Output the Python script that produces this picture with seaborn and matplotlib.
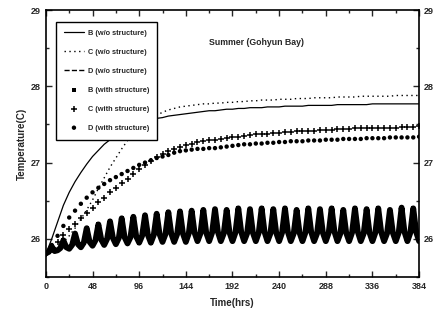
import numpy as np
import seaborn as sns
import matplotlib.pyplot as plt
from matplotlib.ticker import MultipleLocator

# tiempos de muestreo (horas)
hours_6 = np.arange(0, 385, 6)
hours_3 = np.arange(0, 385, 3)

# B (w/o structure) - linea continua
b_wo = [25.80, 26.00, 26.22, 26.44, 26.61, 26.75, 26.87, 26.98, 27.08, 27.16,
        27.24, 27.30, 27.36, 27.41, 27.45, 27.49, 27.52, 27.54, 27.56, 27.58,
        27.59, 27.61, 27.62, 27.63, 27.64, 27.65, 27.66, 27.67, 27.68, 27.68,
        27.69, 27.70, 27.70, 27.71, 27.71, 27.72, 27.72, 27.72, 27.73, 27.73,
        27.73, 27.74, 27.74, 27.74, 27.74, 27.75, 27.75, 27.75, 27.75, 27.75,
        27.76, 27.76, 27.76, 27.76, 27.76, 27.76, 27.77, 27.77, 27.77, 27.77,
        27.77, 27.77, 27.77, 27.77, 27.77]

# C (w/o structure) - punteada
c_wo = [25.80, 25.84, 25.89, 25.96, 26.04, 26.14, 26.26, 26.38, 26.51, 26.66,
        26.80, 26.94, 27.06, 27.18, 27.29, 27.38, 27.46, 27.52, 27.57, 27.62,
        27.66, 27.69, 27.71, 27.73, 27.74, 27.75, 27.76, 27.77, 27.77, 27.78,
        27.78, 27.79, 27.79, 27.80, 27.80, 27.81, 27.81, 27.82, 27.82, 27.82,
        27.83, 27.83, 27.83, 27.84, 27.84, 27.84, 27.85, 27.85, 27.85, 27.85,
        27.86, 27.86, 27.86, 27.86, 27.87, 27.87, 27.87, 27.87, 27.87, 27.87,
        27.88, 27.88, 27.88, 27.88, 27.88]

# C (with structure) - cruces
c_with = [25.80, 25.86, 25.96, 26.05, 26.13, 26.20, 26.27, 26.34, 26.41, 26.48,
          26.54, 26.61, 26.67, 26.73, 26.79, 26.85, 26.91, 26.97, 27.02, 27.07,
          27.11, 27.15, 27.18, 27.21, 27.23, 27.25, 27.27, 27.28, 27.29, 27.30,
          27.31, 27.32, 27.33, 27.34, 27.35, 27.36, 27.37, 27.38, 27.38, 27.39,
          27.39, 27.40, 27.40, 27.41, 27.41, 27.42, 27.42, 27.43, 27.43, 27.43,
          27.44, 27.44, 27.44, 27.45, 27.45, 27.45, 27.45, 27.46, 27.46, 27.46,
          27.46, 27.47, 27.47, 27.47, 27.48]

# D (with structure) - circulos
d_with = [25.80, 25.92, 26.04, 26.17, 26.28, 26.37, 26.46, 26.54, 26.61, 26.67,
          26.72, 26.77, 26.81, 26.85, 26.89, 26.93, 26.97, 27.00, 27.03, 27.06,
          27.08, 27.10, 27.13, 27.15, 27.16, 27.17, 27.18, 27.18, 27.19, 27.19,
          27.20, 27.21, 27.22, 27.23, 27.24, 27.24, 27.25, 27.25, 27.26, 27.26,
          27.27, 27.27, 27.28, 27.28, 27.28, 27.29, 27.29, 27.29, 27.30, 27.30,
          27.30, 27.31, 27.31, 27.31, 27.31, 27.32, 27.32, 27.32, 27.32, 27.33,
          27.33, 27.33, 27.33, 27.33, 27.34]

# oscilacion de marea (B with / D w/o), cada 3 h: valle, subida, pico, bajada
tide = [25.81, 25.83, 25.90, 25.84,
        25.85, 25.88, 25.98, 25.89,
        25.87, 25.92, 26.07, 25.93,
        25.89, 25.95, 26.14, 25.96,
        25.91, 25.98, 26.19, 25.99,
        25.92, 26.00, 26.23, 26.01,
        25.93, 26.01, 26.27, 26.02,
        25.94, 26.02, 26.29, 26.03,
        25.95, 26.04, 26.31, 26.05,
        25.95, 26.05, 26.33, 26.06,
        25.96, 26.06, 26.35, 26.07,
        25.96, 26.06, 26.36, 26.07,
        25.96, 26.07, 26.37, 26.08,
        25.97, 26.07, 26.38, 26.08,
        25.97, 26.08, 26.39, 26.09,
        25.97, 26.07, 26.38, 26.08,
        25.97, 26.08, 26.40, 26.09,
        25.97, 26.07, 26.39, 26.08,
        25.97, 26.08, 26.40, 26.09,
        25.97, 26.07, 26.39, 26.08,
        25.97, 26.08, 26.40, 26.09,
        25.97, 26.07, 26.38, 26.08,
        25.97, 26.08, 26.40, 26.09,
        25.97, 26.07, 26.39, 26.08,
        25.97, 26.08, 26.40, 26.09,
        25.97, 26.07, 26.38, 26.08,
        25.97, 26.08, 26.40, 26.09,
        25.97, 26.07, 26.39, 26.08,
        25.97, 26.08, 26.40, 26.09,
        25.97, 26.07, 26.38, 26.08,
        25.97, 26.08, 26.41, 26.09,
        25.97, 26.08, 26.40, 26.09,
        25.97]

sns.set_style("ticks")
plt.rcParams['font.family'] = ['Liberation Sans', 'DejaVu Sans']
plt.rcParams['font.weight'] = 'bold'

fig = plt.figure(figsize=(4.37, 3.24), dpi=100)
ax = fig.add_axes([0.105, 0.145, 0.854, 0.824])

# banda gruesa de la oscilacion
sns.lineplot(x=hours_3, y=tide, ax=ax, color='k', lw=4.2, label='_band',
             solid_joinstyle='round', solid_capstyle='round')
sns.lineplot(x=hours_6, y=b_wo, ax=ax, color='k', lw=0.9, label='B (w/o structure)')
sns.lineplot(x=hours_6, y=c_wo, ax=ax, color='k', lw=1.0, linestyle=(0, (1, 2.5)),
             label='C (w/o structure)')
sns.lineplot(x=hours_3, y=tide, ax=ax, color='k', lw=1.0, linestyle='--',
             label='D (w/o structure)')
sns.scatterplot(x=hours_3, y=tide, ax=ax, color='k', marker='s', s=8,
                edgecolor='none', label='B (with structure)')
sns.scatterplot(x=hours_6, y=c_with, ax=ax, color='k', marker='+', s=22,
                linewidth=1.1, label='C (with structure)')
sns.scatterplot(x=hours_6, y=d_with, ax=ax, color='k', marker='o', s=10,
                edgecolor='none', label='D (with structure)')

order = ['B (w/o structure)', 'C (w/o structure)', 'D (w/o structure)',
         'B (with structure)', 'C (with structure)', 'D (with structure)']
handles, labels = ax.get_legend_handles_labels()
hmap = dict(zip(labels, handles))
leg = ax.legend([hmap[k] for k in order], order, loc='upper left',
                bbox_to_anchor=(0.018, 0.97), fontsize=5.3, frameon=True,
                fancybox=False, edgecolor='k', framealpha=1, handlelength=2.6,
                labelspacing=1.6, borderpad=1.1, handletextpad=0.6)
leg.get_frame().set_linewidth(1.0)

ax.text(217, 28.57, 'Summer (Gohyun Bay)', fontsize=6.3, fontweight='bold',
        ha='center', va='center')

ax.set_xlim(0, 384)
ax.set_ylim(25.5, 29)
ax.xaxis.set_major_locator(MultipleLocator(48))
ax.xaxis.set_minor_locator(MultipleLocator(24))
ax.yaxis.set_major_locator(MultipleLocator(1))
ax.yaxis.set_minor_locator(MultipleLocator(0.5))
ax.tick_params(which='both', direction='in', top=True, right=True,
               labelright=True, labelsize=6.5, width=1)
ax.tick_params(which='major', length=4)
ax.tick_params(which='minor', length=2.5)
for lbl in ax.get_xticklabels() + ax.get_yticklabels():
    lbl.set_fontweight('bold')
for s in ax.spines.values():
    s.set_linewidth(1.2)
    s.set_color('k')

ax.set_xlabel('Time(hrs)', fontsize=7, fontweight='bold', labelpad=5)
ax.set_ylabel('Temperature(C)', fontsize=7, fontweight='bold', labelpad=3)

fig.savefig('out.png', dpi=100)
